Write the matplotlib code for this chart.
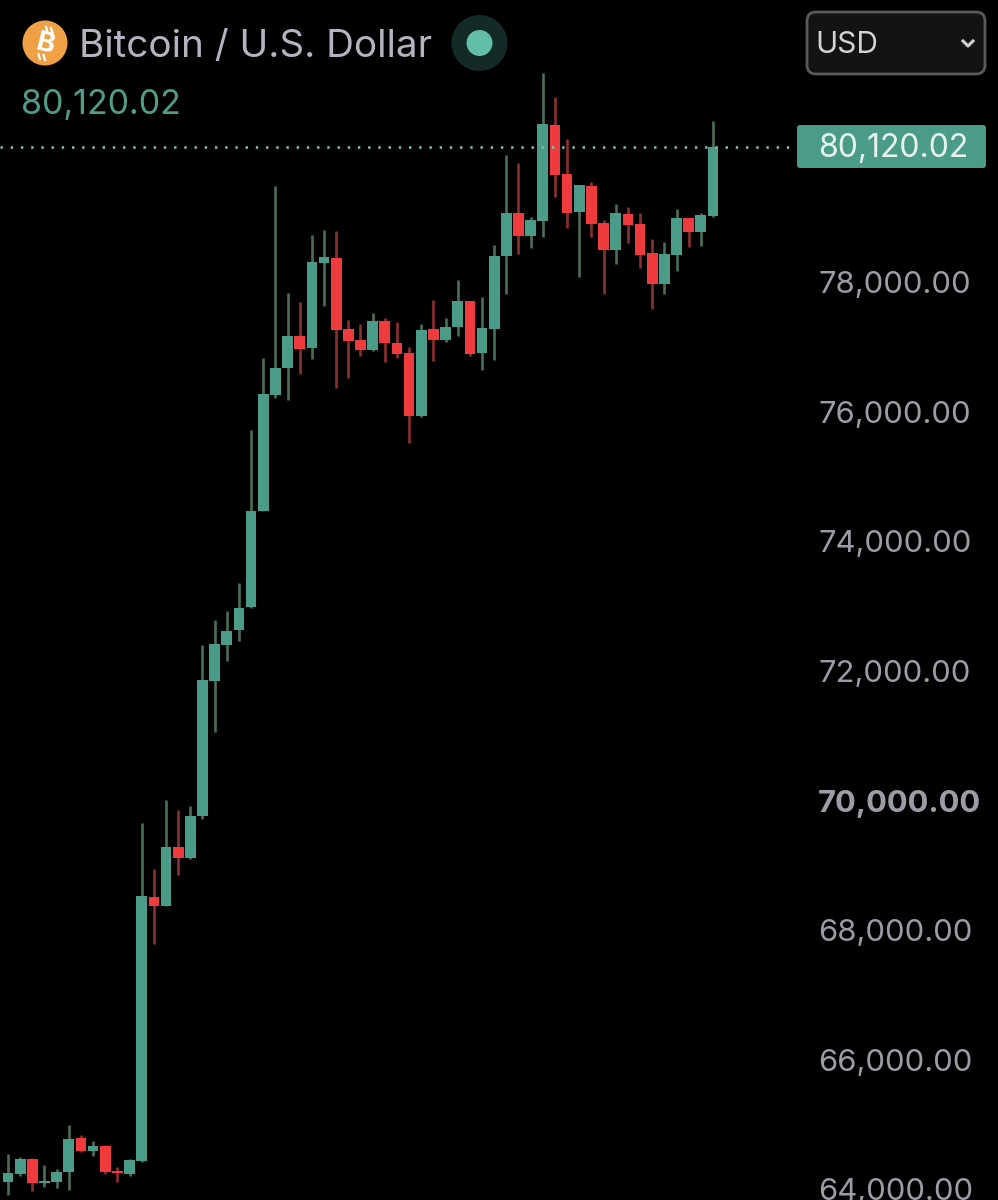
import matplotlib
matplotlib.use('Agg')
import matplotlib.pyplot as plt
from matplotlib.patches import Circle, FancyBboxPatch
from matplotlib.transforms import ScaledTranslation

plt.rcParams['font.family'] = ['Inter', 'DejaVu Sans']

# candles, oldest first
opens = [64145, 64273, 64505, 64135, 64145, 64304, 64819, 64624, 64701, 64310,
         64264, 64474, 68538, 68409, 69310, 69140, 69788, 71876, 72436, 72658,
         73013, 74499, 76284, 76705, 77199, 77019, 78325, 78407, 77302, 77133,
         76978, 77431, 77091, 76937, 75965, 77302, 77133, 77338, 77735, 76941,
         77307, 78434, 79102, 78742, 78978, 80459, 79703, 79108, 79509, 78938,
         78521, 79077, 78923, 78475, 78001, 78454, 79024, 78804, 79055]
highs = [64577, 64536, 64520, 64412, 64351, 65025, 64871, 64773, 64711, 64381,
         64500, 69689, 68970, 70040, 69885, 69947, 72431, 72812, 72956, 73383,
         75749, 76855, 79518, 77863, 77719, 78753, 78830, 78819, 77446, 77380,
         77559, 77481, 77420, 77034, 77380, 77755, 77472, 78059, 77744, 77801,
         78599, 79992, 79864, 79031, 81257, 80891, 80239, 79534, 79571, 78984,
         79231, 79194, 79102, 78700, 78645, 79154, 79024, 79092, 80517]
lows = [63940, 64243, 64006, 64064, 64057, 64017, 64610, 64551, 64264, 64145,
        64233, 64449, 67818, 68399, 68887, 69125, 69751, 71093, 72189, 72488,
        73007, 74499, 76247, 76212, 76613, 76849, 77662, 76401, 76551, 76890,
        76968, 76798, 76864, 75553, 75950, 76809, 77111, 77204, 76895, 76679,
        76833, 77843, 78469, 78562, 78731, 79344, 78861, 78114, 78731, 77852,
        78310, 78639, 78244, 77620, 77852, 78207, 78572, 78588, 79040]
closes = [64284, 64496, 64135, 64165, 64304, 64813, 64619, 64701, 64304, 64280,
          64480, 68554, 68404, 69314, 69149, 69793, 71887, 72447, 72652, 73007,
          74499, 76300, 76710, 77199, 77003, 78336, 78413, 77292, 77122, 76978,
          77431, 77086, 76926, 75965, 77287, 77137, 77338, 77735, 76926, 77318,
          78438, 79092, 78742, 78984, 80475, 79683, 79097, 79524, 78927, 78521,
          79092, 78916, 78454, 78001, 78464, 79024, 78804, 79066, 80120.02]

last_price = 80120.02
price_ticks = [64000, 66000, 68000, 70000, 72000, 74000, 76000, 78000]

GREEN = '#4a9c88'
RED = '#ef3b3d'
GREEN_WICK = '#4b6e58'
RED_WICK = '#8c2f30'
GREY = '#9b9da4'

fig = plt.figure(figsize=(9.98, 12), dpi=100, facecolor='black')
ax = fig.add_axes([0, 0, 1, 1], facecolor='black')
ax.set_xlim(-0.658, 81.45)
ax.set_ylim(63868, 82384)
for spine in ax.spines.values():
    spine.set_visible(False)

xs = list(range(len(opens)))
up = [c >= o for o, c in zip(opens, closes)]

ax.vlines(xs, lows, highs, colors=[GREEN_WICK if u else RED_WICK for u in up],
          linewidth=1.9, zorder=2)
ax.bar(xs, [abs(c - o) for o, c in zip(opens, closes)],
       bottom=[min(o, c) for o, c in zip(opens, closes)], width=0.88,
       color=[GREEN if u else RED for u in up], linewidth=0, zorder=3)

# last price line stops at the price tag
ax.plot([-0.658, 64.9], [last_price, last_price], color='#7fbfae', linewidth=1.9,
        linestyle=(0, (0.9, 2.97)), zorder=4)

ax.set_xticks([])
ax.yaxis.tick_right()
ax.set_yticks(price_ticks)
ax.set_yticklabels([f'{t:,.2f}' for t in price_ticks], color=GREY, fontsize=22.3)
ax.tick_params(axis='y', length=0, pad=-129.5)
ax.get_yticklabels()[price_ticks.index(70000)].set_fontweight('bold')
# labels sit 2px above their price level in the reference
for lab in ax.get_yticklabels():
    lab.set_transform(lab.get_transform() + ScaledTranslation(0, 0.02, fig.dpi_scale_trans))

# header widgets, in pixel coordinates
ui = fig.add_axes([0, 0, 1, 1], facecolor='none')
ui.set_xlim(0, 998)
ui.set_ylim(1200, 0)
ui.axis('off')

# no installed font has the bitcoin sign, so a B with its two small bars
ui.add_patch(Circle((45, 43), 22.5, color='#f0a145', linewidth=0))
ui.text(45, 44, 'B', color='white', fontsize=20, fontweight='bold', rotation=-14,
        ha='center', va='center')
ui.plot([46, 47.5], [27, 32], color='white', linewidth=1.6)
ui.plot([51, 52.5], [28, 33], color='white', linewidth=1.6)
ui.plot([38.5, 40], [54, 59], color='white', linewidth=1.6)
ui.plot([43.5, 45], [55, 60], color='white', linewidth=1.6)

ui.text(79, 43, 'Bitcoin / U.S. Dollar', color='#b2b4bf', fontsize=27.8,
        ha='left', va='center_baseline')
ui.text(21, 102, f'{last_price:,.2f}', color='#4f9c88', fontsize=24.5,
        ha='left', va='center_baseline')
ui.add_patch(Circle((479.5, 43), 28, color='#142a27', linewidth=0))
ui.add_patch(Circle((479.5, 43), 13, color='#62bda9', linewidth=0))

ui.add_patch(FancyBboxPatch((812, 17), 168, 52, boxstyle='round,pad=5,rounding_size=9',
                            facecolor='#131316', edgecolor='#5a5a5c', linewidth=2))
ui.text(815, 42, 'USD', color='#d3d3d6', fontsize=21.5, ha='left', va='center_baseline')
ui.plot([963, 968, 973], [41, 46, 41], color='#d3d3d6', linewidth=2.2)

ui.add_patch(FancyBboxPatch((800, 128), 183, 37, boxstyle='round,pad=3,rounding_size=3',
                            facecolor=GREEN, edgecolor='none'))
ui.text(818, 145, f'{last_price:,.2f}', color='#e8f3f0', fontsize=23,
        ha='left', va='center_baseline')

fig.savefig('out.png', dpi=100, facecolor='black')
